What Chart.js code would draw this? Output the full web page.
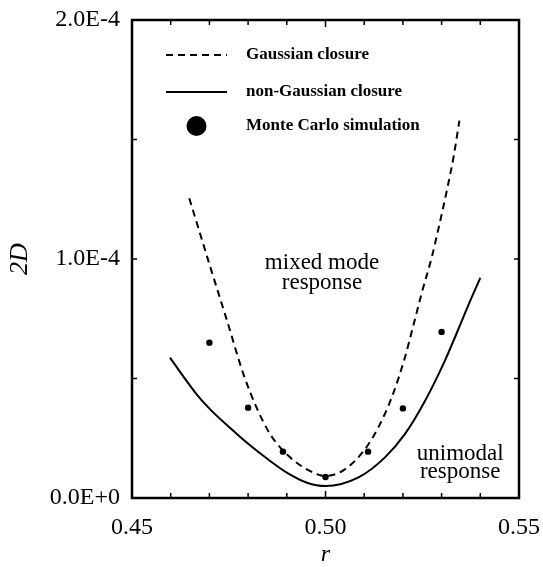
<!DOCTYPE html>
<html>
<head>
<meta charset="utf-8">
<title>2D vs r</title>
<script src="https://cdn.jsdelivr.net/npm/chart.js@4.4.1/dist/chart.umd.min.js"></script>
<style>
    html, body { margin: 0; padding: 0; background: #ffffff; }
    #wrap { width: 543px; height: 567px; position: relative; }
</style>
</head>
<body>

<div id="wrap"><canvas id="closureChart"></canvas></div>

<script>

/* ==========================================
   Data
========================================== */

// Gaussian closure (dashed)
const gaussR = [0.4648, 0.4702, 0.4745, 0.4788, 0.4822, 0.4857, 0.4900, 0.4952, 0.5000,
                0.5050, 0.5102, 0.5136, 0.5171, 0.5205, 0.5230, 0.5249, 0.5275, 0.5292,
                0.5314, 0.5331, 0.5346];
const gauss2D = [1.254e-4, 0.968e-4, 0.745e-4, 0.518e-4, 0.378e-4, 0.267e-4, 0.183e-4, 0.120e-4, 0.092e-4,
                 0.120e-4, 0.204e-4, 0.294e-4, 0.420e-4, 0.587e-4, 0.741e-4, 0.860e-4, 1.010e-4, 1.128e-4,
                 1.290e-4, 1.428e-4, 1.579e-4];

// non-Gaussian closure (solid)
const nonGaussR = [0.4598, 0.4667, 0.4702, 0.4753, 0.4797, 0.4857, 0.4900, 0.4952, 0.5000,
                   0.5084, 0.5153, 0.5205, 0.5257, 0.5308, 0.5352, 0.5370, 0.5400];
const nonGauss2D = [0.587e-4, 0.434e-4, 0.371e-4, 0.294e-4, 0.231e-4, 0.155e-4, 0.106e-4, 0.064e-4, 0.050e-4,
                    0.085e-4, 0.169e-4, 0.267e-4, 0.406e-4, 0.573e-4, 0.740e-4, 0.810e-4, 0.921e-4];

// Monte Carlo simulation (dots)
const mcR = [0.470, 0.480, 0.489, 0.500, 0.511, 0.520, 0.530];
const mc2D = [0.650e-4, 0.378e-4, 0.194e-4, 0.088e-4, 0.194e-4, 0.375e-4, 0.695e-4];

// axes
const rMin = 0.45, rMax = 0.55, rStep = 0.01;
const dMin = 0, dMax = 2.0e-4, dStep = 0.5e-4;

// region notes
const notes = [
    { r: 0.4991, d: [0.983e-4, 0.900e-4], lines: ["mixed mode", "response"] },
    { r: 0.5348, d: [0.184e-4, 0.109e-4], lines: ["unimodal", "response"] }
];

const SERIF = "'Liberation Serif', 'DejaVu Serif', serif";

function pairs(xs, ys) {
    return xs.map((x, i) => ({ x: x, y: ys[i] }));
}


// ---------------------------
// Frame, inward ticks, legend and notes
// ---------------------------

const framePlugin = {

    id: "frame",

    afterDraw(chart) {

        const ctx = chart.ctx;
        const area = chart.chartArea;
        const xs = chart.scales.x;
        const ys = chart.scales.y;

        ctx.save();
        ctx.strokeStyle = "#000";

        // ticks
        ctx.lineWidth = 1.5;
        xs.ticks.forEach(t => {
            const px = xs.getPixelForValue(t.value);
            const len = Math.round(t.value * 100) % 5 === 0 ? 7 : 5;
            ctx.beginPath();
            ctx.moveTo(px, area.bottom); ctx.lineTo(px, area.bottom - len);
            ctx.moveTo(px, area.top); ctx.lineTo(px, area.top + len);
            ctx.stroke();
        });
        ys.ticks.forEach(t => {
            const py = ys.getPixelForValue(t.value);
            ctx.beginPath();
            ctx.moveTo(area.left, py); ctx.lineTo(area.left + 5, py);
            ctx.moveTo(area.right, py); ctx.lineTo(area.right - 5, py);
            ctx.stroke();
        });

        // box
        ctx.lineWidth = 2.5;
        ctx.strokeRect(area.left, area.top, area.right - area.left, area.bottom - area.top);

        // legend
        const ds = chart.data.datasets;
        const lx0 = area.left + 34, lx1 = area.left + 95, tx = area.left + 114;
        const rows = [area.top + 35, area.top + 72, area.top + 106];

        ctx.font = "bold 17px " + SERIF;
        ctx.fillStyle = "#000";
        ctx.textAlign = "left";
        ctx.textBaseline = "middle";

        [0, 1].forEach(i => {
            ctx.lineWidth = ds[i].borderWidth;
            ctx.setLineDash(ds[i].borderDash || []);
            ctx.beginPath();
            ctx.moveTo(lx0, rows[i]);
            ctx.lineTo(lx1, rows[i]);
            ctx.stroke();
            ctx.setLineDash([]);
            ctx.fillText(ds[i].label, tx, rows[i]);
        });

        ctx.beginPath();
        ctx.arc((lx0 + lx1) / 2, rows[2], 10, 0, Math.PI * 2);
        ctx.fill();
        ctx.fillText(ds[2].label, tx, rows[2]);

        // region notes
        ctx.font = "23px " + SERIF;
        ctx.textAlign = "center";
        notes.forEach(n => {
            const px = xs.getPixelForValue(n.r);
            n.lines.forEach((s, k) => {
                ctx.fillText(s, px, ys.getPixelForValue(n.d[k]));
            });
        });

        ctx.restore();

    }

};


// ---------------------------
// Chart
// ---------------------------

new Chart(document.getElementById("closureChart"), {

    type: "scatter",

    data: {

        datasets: [

            {
                label: "Gaussian closure",
                data: pairs(gaussR, gauss2D),
                showLine: true,
                borderColor: "#000",
                borderWidth: 2,
                borderDash: [7, 5],
                pointRadius: 0,
                cubicInterpolationMode: "monotone"
            },

            {
                label: "non-Gaussian closure",
                data: pairs(nonGaussR, nonGauss2D),
                showLine: true,
                borderColor: "#000",
                borderWidth: 2,
                pointRadius: 0,
                cubicInterpolationMode: "monotone"
            },

            {
                label: "Monte Carlo simulation",
                data: pairs(mcR, mc2D),
                showLine: false,
                pointRadius: 3.2,
                pointBackgroundColor: "#000",
                pointBorderWidth: 0
            }

        ]

    },

    options: {

        responsive: true,
        maintainAspectRatio: false,
        animation: false,

        layout: {
            padding: { left: 0, right: 24, top: 20, bottom: 0 }
        },

        plugins: {
            legend: { display: false },
            tooltip: { enabled: false }
        },

        scales: {

            x: {
                type: "linear",
                min: rMin,
                max: rMax,
                grid: { display: false, drawTicks: false },
                border: { display: false },
                afterFit: s => {
                    s.height = 69;
                    s.paddingLeft = 0;
                    s.paddingRight = 0;
                },
                ticks: {
                    stepSize: rStep,
                    autoSkip: false,
                    maxRotation: 0,
                    padding: 15,
                    color: "#000",
                    font: { family: SERIF, size: 24 },
                    callback: v => Math.round(v * 100) % 5 === 0 ? v.toFixed(2) : ""
                },
                title: {
                    display: true,
                    text: "r",
                    color: "#000",
                    padding: { top: 0, bottom: 0 },
                    font: { family: SERIF, size: 24, style: "italic", lineHeight: 1 }
                }
            },

            y: {
                min: dMin,
                max: dMax,
                grid: { display: false, drawTicks: false },
                border: { display: false },
                afterFit: s => {
                    s.width = 132;
                    s.paddingTop = 0;
                    s.paddingBottom = 0;
                },
                ticks: {
                    stepSize: dStep,
                    padding: 12,
                    color: "#000",
                    font: { family: SERIF, size: 24 },
                    callback: v => Math.round(v / dStep) % 2 === 0 ? v.toExponential(1).toUpperCase() : ""
                },
                title: {
                    display: true,
                    text: "2D",
                    color: "#000",
                    padding: { top: 7, bottom: 0 },
                    font: { family: SERIF, size: 26, style: "italic", lineHeight: 1 }
                }
            }

        }

    },

    plugins: [framePlugin]

});

</script>
</body>
</html>
